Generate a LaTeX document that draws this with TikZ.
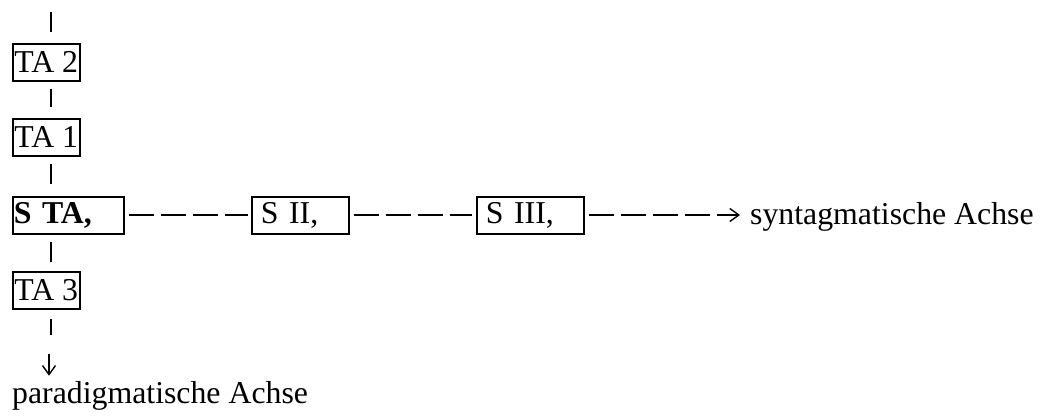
\documentclass[tikz,border=0pt]{standalone}
\usepackage{fontspec}
\setmainfont{Liberation Serif}
\usetikzlibrary{arrows.meta}
\usetikzlibrary{positioning}

\tikzset{
  cell/.style={draw, line width=1.6pt, inner ysep=0pt, minimum height=37pt, anchor=north west, align=left},
  vbar/.style={line width=1.7pt},
  hdash/.style={line width=1.3pt, dash pattern=on 25pt off 7pt},
  tip/.style={-{Straight Barb[length=9pt,width=13pt,line width=1.4pt]}}
}

\begin{document}
\begin{tikzpicture}[x=1pt,y=-1pt, every node/.style={font=\fontsize{31.8}{38}\selectfont}]
\useasboundingbox (0,0) rectangle (1040,419);

% axis coordinates
  \coordinate (axis) at (51,0);
  \coordinate (top) at (51,12);

% paradigmatic column
  \node[cell, minimum width=67pt, inner xsep=0.5pt] (ta2) at (12,43) {TA 2};
  \node[cell, minimum width=67pt, inner xsep=0.5pt] (ta1) at (12,118) {TA 1};
  \node[cell, text width=109pt, inner xsep=1pt] (sta) at (12,196) {\textbf{S TA,}};
  \node[cell, minimum width=67pt, inner xsep=0.5pt] (ta3) at (12,271) {TA 3};
  \node[anchor=base west, inner sep=0pt] (para) at (12,403) {paradigmatische Achse};

% syntagmatic row
  \node[cell, text width=79pt, inner xsep=9pt] (s2) at (251,196) {S II,};
  \node[cell, text width=89pt, inner xsep=9pt] (s3) at (476,196) {S III,};
  \node[anchor=base west, inner sep=0pt] (synt) at (750,225) {syntagmatische Achse};

% vertical bars
  \draw[vbar, shorten >=11pt] (top) -- (ta2.north -| axis);
  \draw[vbar, shorten <=7pt, shorten >=11pt] (ta2.south -| axis) -- (ta1.north -| axis);
  \draw[vbar, shorten <=7pt, shorten >=12pt] (ta1.south -| axis) -- (sta.north -| axis);
  \draw[vbar, shorten <=7pt, shorten >=9pt] (sta.south -| axis) -- (ta3.north -| axis);
  \draw[vbar, shorten <=9pt, shorten >=46pt] (ta3.south -| axis) -- (para.north -| axis);
  \draw[tip, line width=1.3pt, shorten <=44pt, shorten >=5pt] ([xshift=-2pt]ta3.south -| axis) -- ([xshift=-2pt]para.north -| axis);

% dashed connectors
  \draw[hdash, shorten <=4pt, shorten >=3pt] (sta.east |- 0,215) -- (s2.west |- 0,215);
  \draw[hdash, shorten <=4pt, shorten >=4pt] (s2.east |- 0,215) -- (s3.west |- 0,215);
  \draw[hdash, tip, shorten <=4pt, shorten >=10pt] (s3.east |- 0,215) -- (synt.west |- 0,215);

\end{tikzpicture}
\end{document}
